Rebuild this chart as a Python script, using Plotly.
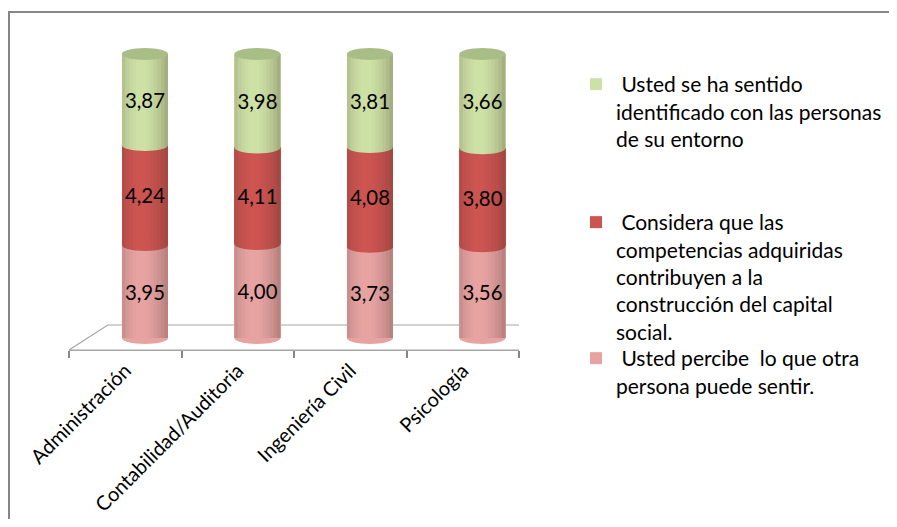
import plotly.graph_objects as go

categories = ["Administración", "Contabilidad/Auditoria", "Ingeniería Civil", "Psicología"]
percibe = [3.95, 4.00, 3.73, 3.56]
competencias = [4.24, 4.11, 4.08, 3.80]
identificado = [3.87, 3.98, 3.81, 3.66]

names = [
    "\u00a0Usted percibe  lo que otra<br>persona puede sentir.",
    "\u00a0Considera que las<br>competencias adquiridas<br>contribuyen a la<br>construcción del capital<br>social.",
    "\u00a0Usted se ha sentido<br>identificado con las personas<br>de su entorno",
]
colors = ["#e6a3a2", "#cc5451", "#cde0a6"]
top_cap_color = "#a9bd86"

# the page body adds an 8px margin, so work in page pixels minus 8
OFF = 8
W, H = 889, 511
def fx(px):  # page px -> figure px
    return px - OFF
L = fx(69)
R = W - fx(519)
T = fx(46)
B = H - fx(350)
pw, ph = W - L - R, H - T - B
ymin, ymax = -4.23, 102.8

def px_x(px):
    return (fx(px) - L) / pw

def px_y(py):
    return (H - B - fx(py)) / ph

series = [percibe, competencias, identificado]
legends = ["legend3", "legend2", "legend"]

bar_w = 0.41
bar_off = -0.03

fig = go.Figure()
for vals, nm, col, lg in zip(series, names, colors, legends):
    fig.add_trace(go.Bar(
        x=categories, y=vals, name=nm, text=vals,
        texttemplate="%{text:.2f}", textposition="inside",
        insidetextanchor="middle", textangle=0,
        textfont=dict(family="Lato", size=21, color="#000000"),
        marker=dict(color=col, line=dict(width=0)),
        width=bar_w, offset=bar_off, legend=lg,
    ))

shapes = []
ell_h = 4.2
# cylinder shading profile across the bar width (dark edges, light centre-left)
shade = [0.16, 0.09, 0.05, 0.02, 0.0, 0.0, 0.0, 0.02, 0.05, 0.09, 0.14, 0.2, 0.27]
for i in range(len(categories)):
    tot = percibe[i] + competencias[i] + identificado[i]
    cum = 0.0
    bounds = [0.0]
    for s in series:
        cum += s[i] / tot * 100
        bounds.append(cum)
    x0, x1 = i + bar_off, i + bar_off + bar_w
    shapes.append(dict(type="circle", xref="x", yref="y", x0=x0, x1=x1,
                       y0=bounds[0] - ell_h / 2, y1=bounds[0] + ell_h / 2,
                       fillcolor=colors[0], line=dict(width=0), layer="above"))
    for k in (1, 2):
        shapes.append(dict(type="circle", xref="x", yref="y", x0=x0, x1=x1,
                           y0=bounds[k] - ell_h / 2, y1=bounds[k] + ell_h / 2,
                           fillcolor=colors[k], line=dict(width=0), layer="above"))
    n = len(shade)
    sw = bar_w / n
    for j, a in enumerate(shade):
        if a <= 0:
            continue
        shapes.append(dict(type="rect", xref="x", yref="y",
                           x0=x0 + j * sw, x1=x0 + (j + 1) * sw,
                           y0=bounds[0], y1=bounds[3],
                           fillcolor=f"rgba(60,40,30,{a})", line=dict(width=0), layer="above"))
    shapes.append(dict(type="circle", xref="x", yref="y", x0=x0, x1=x1,
                       y0=bounds[3] - ell_h / 2, y1=bounds[3] + ell_h / 2,
                       fillcolor=top_cap_color, line=dict(width=0), layer="above"))

# floor plane
back_y = 4.58
dx = 0.345
shapes.append(dict(type="path", xref="x", yref="y",
                   path=f"M -0.5,{ymin} L 3.5,{ymin} L {3.5+dx},{back_y} L {-0.5+dx},{back_y} Z",
                   line=dict(color="#a6a6a6", width=1.2), fillcolor="rgba(0,0,0,0)", layer="below"))

# outer frame (left and top edges visible)
shapes.append(dict(type="line", xref="paper", yref="paper", x0=px_x(9), x1=px_x(9),
                   y0=px_y(540), y1=px_y(12), line=dict(color="#868686", width=2)))
shapes.append(dict(type="line", xref="paper", yref="paper", x0=px_x(8), x1=px_x(930),
                   y0=px_y(12), y1=px_y(12), line=dict(color="#868686", width=2)))

leg_font = dict(family="Lato", size=21, color="#000000")
leg_common = dict(xanchor="left", yanchor="top", font=leg_font, bgcolor="rgba(0,0,0,0)",
                  borderwidth=0, itemclick=False, valign="top")

fig.update_layout(
    width=W, height=H,
    margin=dict(l=L, r=R, t=T, b=B, autoexpand=False),
    barmode="stack", barnorm="percent",
    separators=",.",
    paper_bgcolor="white", plot_bgcolor="rgba(0,0,0,0)",
    showlegend=True,
    legend=dict(x=px_x(576), y=px_y(64), **leg_common),
    legend2=dict(x=px_x(576), y=px_y(202), **leg_common),
    legend3=dict(x=px_x(576), y=px_y(338), **leg_common),
    xaxis=dict(type="category", range=[-0.5, 3.5], tickson="boundaries",
               ticks="outside", ticklen=7, tickcolor="#868686", tickwidth=1.5,
               showline=True, linecolor="#a6a6a6", linewidth=1.2,
               tickangle=-45, tickfont=dict(family="Lato", size=20, color="#000000"),
               showgrid=False, zeroline=False),
    yaxis=dict(range=[ymin, ymax], visible=False, showgrid=False, zeroline=False),
    shapes=shapes,
    font=dict(family="Lato"),
)

fig.write_html("out.html")
